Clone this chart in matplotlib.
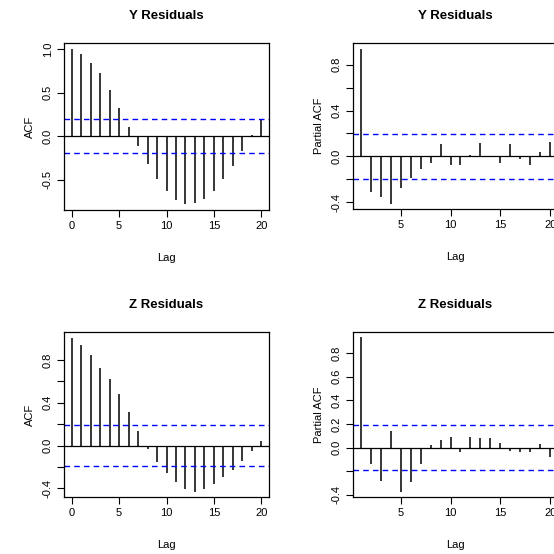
import matplotlib.pyplot as plt

plt.rcParams['font.family'] = ['Liberation Sans', 'DejaVu Sans']

lags_acf = list(range(0, 21))
lags_pacf = list(range(1, 21))

y_acf = [1.0, 0.946, 0.84, 0.72, 0.53, 0.32, 0.10, -0.11, -0.32, -0.49, -0.63,
         -0.73, -0.78, -0.77, -0.72, -0.63, -0.49, -0.34, -0.17, 0.01, 0.20]
y_pacf = [0.94, -0.31, -0.355, -0.42, -0.28, -0.19, -0.11, -0.055, 0.11, -0.075,
          -0.075, 0.01, 0.12, -0.01, -0.055, 0.11, -0.02, -0.08, 0.04, 0.125]
z_acf = [1.0, 0.94, 0.85, 0.72, 0.62, 0.48, 0.31, 0.14, -0.03, -0.15, -0.255,
         -0.34, -0.405, -0.43, -0.405, -0.36, -0.29, -0.23, -0.145, -0.05, 0.045]
z_pacf = [0.935, -0.14, -0.28, 0.14, -0.375, -0.29, -0.14, 0.017, 0.06, 0.087,
          -0.037, 0.087, 0.08, 0.08, 0.037, -0.028, -0.037, -0.037, 0.028, -0.08]
conf = 0.195

W = H = 554
fig = plt.figure(figsize=(W / 100, H / 100), dpi=100)


def panel(px, py, pw, ph, lags, vals, ylab, ylim, xlim, yticks, ylabels, xticks):
    ax = fig.add_axes([px / W, 1 - (py + ph) / H, pw / W, ph / H])
    ax.vlines(lags, 0, vals, color='black', linewidth=1.1)
    ax.axhline(0, color='black', linewidth=0.9)
    for c in (conf, -conf):
        ax.axhline(c, color='blue', linestyle=(0, (4, 3)), linewidth=1.0)
    ax.set_xlim(*xlim)
    ax.set_ylim(*ylim)
    ax.set_xticks(xticks)
    ax.set_yticks(yticks)
    ax.set_yticklabels(ylabels, rotation=90, va='center')
    ax.tick_params(labelsize=8, direction='out', length=5, pad=3)
    for s in ax.spines.values():
        s.set_linewidth(0.9)
    ax.set_xlabel('Lag', fontsize=8, labelpad=16)
    ax.set_ylabel(ylab, fontsize=8, labelpad=6)
    return ax


def lbl(ticks, hide):
    return ['' if t in hide else ('%.1f' % t) for t in ticks]


ax1 = panel(64, 43, 205, 167, lags_acf, y_acf, 'ACF', (-0.85, 1.07), (-0.8, 20.8),
            [-0.5, 0, 0.5, 1.0], ['-0.5', '0.0', '0.5', '1.0'], [0, 5, 10, 15, 20])
ax1.set_title('Y Residuals', fontsize=9.5, fontweight='bold', pad=17)

t = [-0.4, -0.2, 0, 0.2, 0.4, 0.6, 0.8]
ax2 = panel(353, 43, 205, 166, lags_pacf, y_pacf, 'Partial ACF', (-0.46, 0.99), (0.23, 20.77),
            t, lbl(t, (-0.2, 0.2, 0.6)), [5, 10, 15, 20])
ax2.set_title('Y Residuals', fontsize=9.5, fontweight='bold', pad=17)

ax3 = panel(64, 332, 205, 165, lags_acf, z_acf, 'ACF', (-0.48, 1.06), (-0.8, 20.8),
            t, lbl(t, (-0.2, 0.2, 0.6)), [0, 5, 10, 15, 20])
ax3.set_title('Z Residuals', fontsize=9.5, fontweight='bold', pad=17)

ax4 = panel(353, 332, 205, 165, lags_pacf, z_pacf, 'Partial ACF', (-0.42, 0.98), (0.23, 20.77),
            t, lbl(t, (-0.2,)), [5, 10, 15, 20])
ax4.set_title('Z Residuals', fontsize=9.5, fontweight='bold', pad=17)

fig.savefig('out.png', dpi=100)
